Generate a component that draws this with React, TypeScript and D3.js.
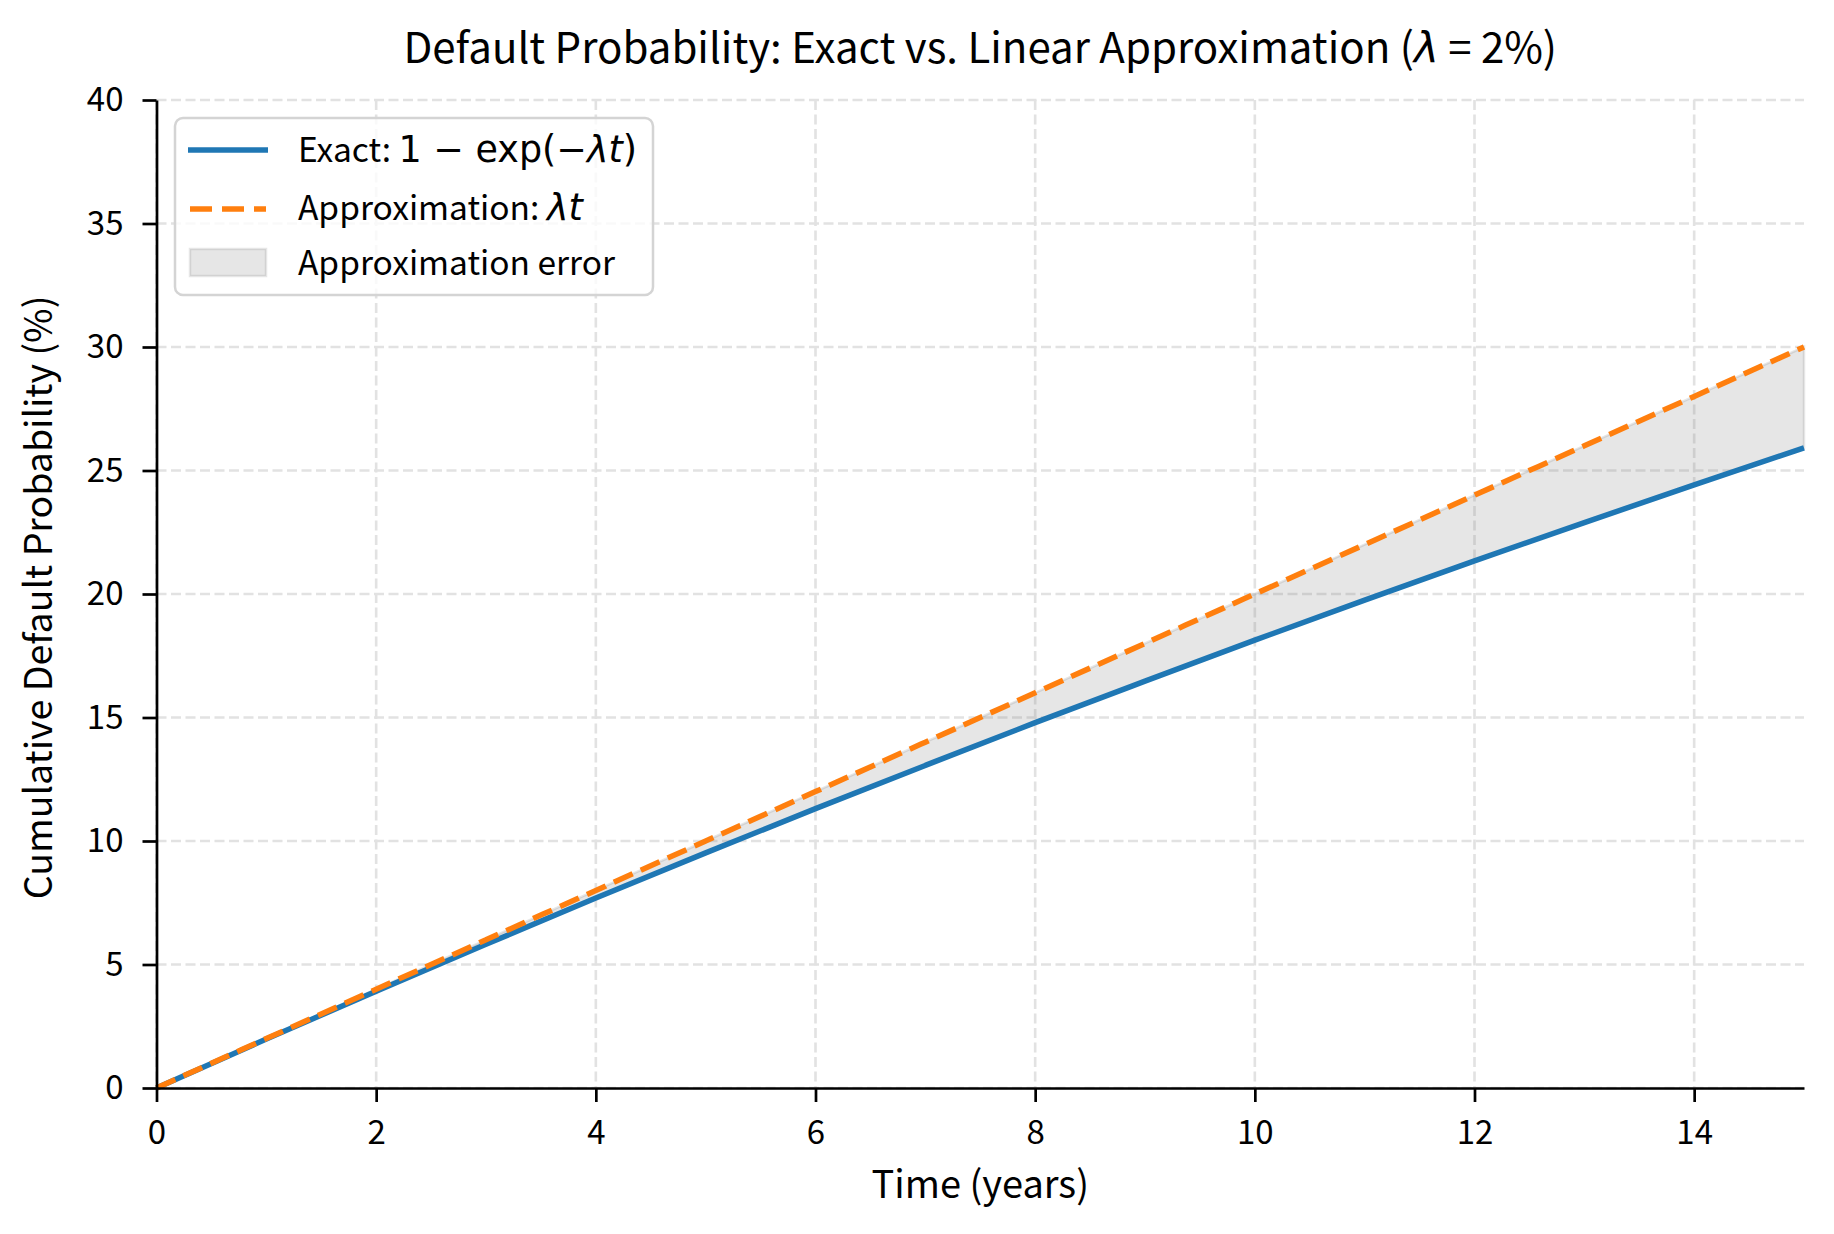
import { useEffect, useRef } from 'react'
import * as d3 from 'd3'

// values (percent)
const years = [0, 1, 2, 3, 4, 5, 6, 7, 8, 9, 10, 11, 12, 13, 14, 15]
const exactPct = [0, 1.98, 3.92, 5.82, 7.69, 9.52, 11.31, 13.06, 14.79, 16.47, 18.13, 19.75, 21.34, 22.89, 24.42, 25.92]
const approxPct = [0, 2, 4, 6, 8, 10, 12, 14, 16, 18, 20, 22, 24, 26, 28, 30]
const xTicks = [0, 2, 4, 6, 8, 10, 12, 14]
const yTicks = [0, 5, 10, 15, 20, 25, 30, 35, 40]

const WIDTH = 1834
const HEIGHT = 1234
const FONT = '"Noto Sans CJK KR", "Noto Sans", sans-serif'
const MATH = '"DejaVu Sans", sans-serif'
const BLUE = '#1f77b4'
const ORANGE = '#ff7f0e'

export default function App() {
  const svgRef = useRef<SVGSVGElement>(null)

  useEffect(() => {
    if (!svgRef.current) return
    const svg = d3.select(svgRef.current)
    svg.selectAll('*').remove()

    const margin = { top: 100, right: 30, bottom: 146, left: 156.5 }
    const innerWidth = WIDTH - margin.left - margin.right
    const innerHeight = HEIGHT - margin.top - margin.bottom

    svg.append('rect').attr('width', WIDTH).attr('height', HEIGHT).attr('fill', '#fff')

    const g = svg.append('g').attr('transform', `translate(${margin.left},${margin.top})`)

    const x = d3.scaleLinear().domain([0, 15]).range([0, innerWidth])
    const y = d3.scaleLinear().domain([0, 40]).range([innerHeight, 0])

    // grid
    const grid = g.append('g')
    grid.selectAll('line.gx')
      .data(xTicks)
      .join('line')
      .attr('x1', d => x(d)).attr('x2', d => x(d))
      .attr('y1', 0).attr('y2', innerHeight)
      .attr('stroke', '#e2e2e2').attr('stroke-width', 2.6)
      .attr('stroke-dasharray', '10,4.5')
    grid.selectAll('line.gy')
      .data(yTicks)
      .join('line')
      .attr('x1', 0).attr('x2', innerWidth)
      .attr('y1', d => y(d)).attr('y2', d => y(d))
      .attr('stroke', '#e2e2e2').attr('stroke-width', 2.6)
      .attr('stroke-dasharray', '10,4.5')

    const rows = years.map((t, i) => ({ t, exact: exactPct[i], approx: approxPct[i] }))

    const band = d3.area<typeof rows[number]>()
      .x(d => x(d.t))
      .y0(d => y(d.exact))
      .y1(d => y(d.approx))
      .curve(d3.curveMonotoneX)

    g.append('path')
      .attr('d', band(rows))
      .attr('fill', 'rgba(128,128,128,0.2)')
      .attr('stroke', 'rgba(128,128,128,0.2)')
      .attr('stroke-width', 2.5)

    const line = (key: 'exact' | 'approx') => d3.line<typeof rows[number]>()
      .x(d => x(d.t))
      .y(d => y(d[key]))
      .curve(d3.curveMonotoneX)

    g.append('path')
      .attr('d', line('exact')(rows))
      .attr('fill', 'none')
      .attr('stroke', BLUE)
      .attr('stroke-width', 5.5)

    g.append('path')
      .attr('d', line('approx')(rows))
      .attr('fill', 'none')
      .attr('stroke', ORANGE)
      .attr('stroke-width', 5.5)
      .attr('stroke-dasharray', '20.6,8.9')

    // axes
    const xAxis = g.append('g')
      .attr('transform', `translate(0,${innerHeight})`)
      .call(d3.axisBottom(x).tickValues(xTicks).tickSize(14).tickPadding(19).tickSizeOuter(0))
    const yAxis = g.append('g')
      .call(d3.axisLeft(y).tickValues(yTicks).tickSize(14).tickPadding(19).tickSizeOuter(0))

    ;[xAxis, yAxis].forEach(ax => {
      ax.select('.domain').attr('stroke', '#000').attr('stroke-width', 2.7)
      ax.selectAll('.tick line').attr('stroke', '#000').attr('stroke-width', 2.7)
      ax.selectAll('.tick text')
        .attr('fill', '#000')
        .style('font-family', FONT)
        .style('font-size', '33px')
    })

    // labels
    svg.append('text')
      .attr('x', margin.left + innerWidth / 2)
      .attr('y', 1198)
      .attr('text-anchor', 'middle')
      .style('font-family', FONT)
      .style('font-size', '38px')
      .text('Time (years)')

    svg.append('text')
      .attr('transform', `translate(52,${margin.top + innerHeight / 2 + 3.5}) rotate(-90)`)
      .attr('text-anchor', 'middle')
      .style('font-family', FONT)
      .style('font-size', '37.5px')
      .text('Cumulative Default Probability (%)')

    const title = svg.append('text')
      .attr('x', margin.left + innerWidth / 2)
      .attr('y', 63)
      .attr('text-anchor', 'middle')
      .style('font-family', FONT)
      .style('font-size', '42px')
    title.append('tspan').text('Default Probability: Exact vs. Linear Approximation (')
    title.append('tspan').style('font-family', MATH).style('font-style', 'italic').text('λ')
    title.append('tspan').text(' = 2%)')

    // legend
    const lg = svg.append('g')
    lg.append('rect')
      .attr('x', 175).attr('y', 118)
      .attr('width', 478).attr('height', 177)
      .attr('rx', 8)
      .attr('fill', 'rgba(255,255,255,0.8)')
      .attr('stroke', '#d4d4d4')
      .attr('stroke-width', 2.5)

    lg.append('line')
      .attr('x1', 188).attr('x2', 268).attr('y1', 150).attr('y2', 150)
      .attr('stroke', BLUE).attr('stroke-width', 5.5)
    lg.append('line')
      .attr('x1', 190).attr('x2', 266).attr('y1', 209).attr('y2', 209)
      .attr('stroke', ORANGE).attr('stroke-width', 5.5)
      .attr('stroke-dasharray', '22,10')
    lg.append('rect')
      .attr('x', 190).attr('y', 249)
      .attr('width', 76).attr('height', 27)
      .attr('fill', 'rgba(128,128,128,0.2)')
      .attr('stroke', 'rgba(128,128,128,0.2)')
      .attr('stroke-width', 2.5)

    const mathSize = '36.5px'
    const t1 = lg.append('text').attr('x', 298).attr('y', 162).style('font-family', FONT).style('font-size', '33.5px')
    t1.append('tspan').text('Exact: ')
    t1.append('tspan').style('font-family', MATH).style('font-size', mathSize).text('1 − exp(−')
    t1.append('tspan').style('font-family', MATH).style('font-size', mathSize).style('font-style', 'italic').text('λt')
    t1.append('tspan').style('font-family', MATH).style('font-size', mathSize).text(')')

    const t2 = lg.append('text').attr('x', 298).attr('y', 220).style('font-family', FONT).style('font-size', '33.5px')
    t2.append('tspan').text('Approximation: ')
    t2.append('tspan').style('font-family', MATH).style('font-size', mathSize).style('font-style', 'italic').text('λt')

    lg.append('text').attr('x', 298).attr('y', 275)
      .style('font-family', FONT).style('font-size', '33.5px')
      .text('Approximation error')
  }, [])

  return (
    <svg
      ref={svgRef}
      width={WIDTH}
      height={HEIGHT}
      style={{ display: 'block', position: 'absolute', left: 0, top: 0 }}
    />
  )
}
